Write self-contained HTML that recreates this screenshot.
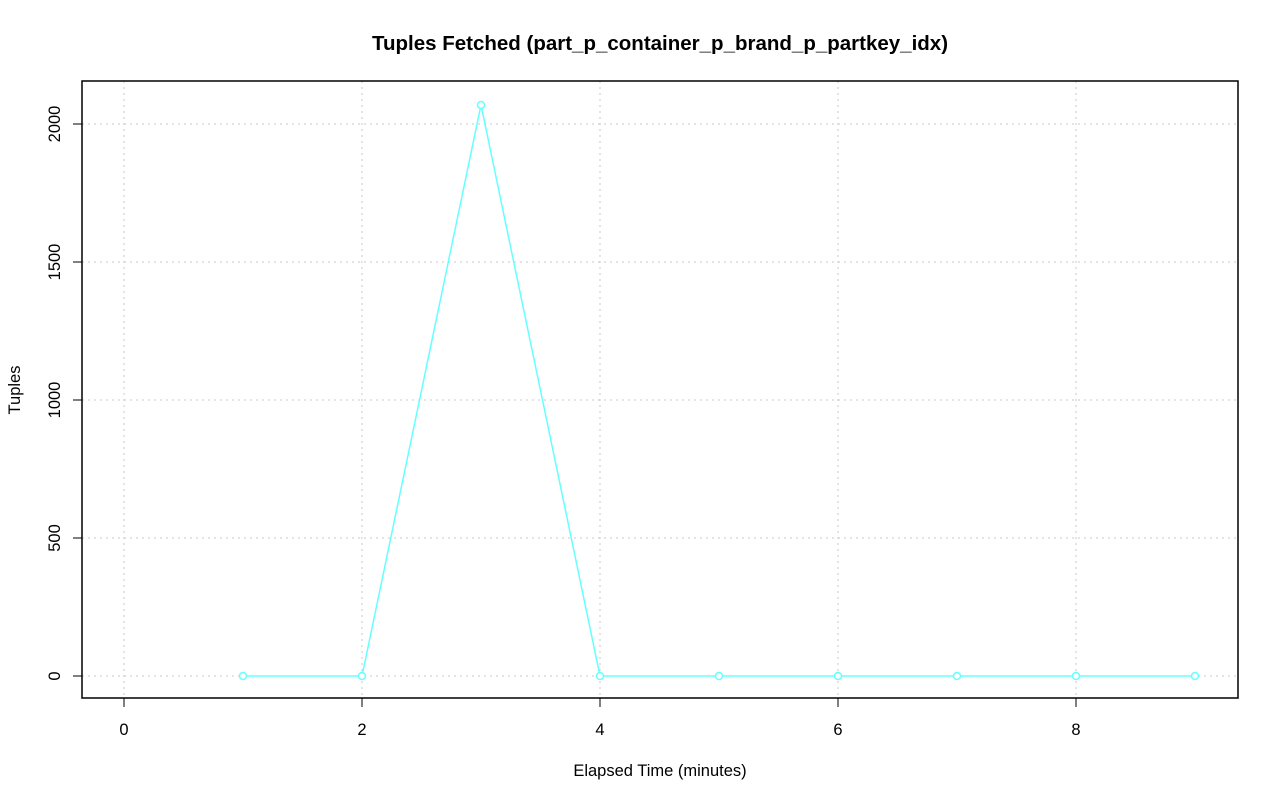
<!DOCTYPE html>
<html><head><meta charset="utf-8"><style>
body{margin:0;background:#fff;}
svg text{font-family:"Liberation Sans",Arial,sans-serif;}
</style></head><body>
<svg id="chart" width="1280" height="801" viewBox="0 0 1280 801">
<text x="660" y="50" text-anchor="middle" font-size="20.5" font-weight="bold">Tuples Fetched (part_p_container_p_brand_p_partkey_idx)</text>
<text x="660" y="776" text-anchor="middle" font-size="16.5">Elapsed Time (minutes)</text>
<text transform="translate(20,390) rotate(-90)" text-anchor="middle" font-size="16.5">Tuples</text>
<g id="grid"></g><g id="axes"></g><g id="series"></g>
<rect x="82" y="81" width="1156" height="617" fill="none" stroke="#000" stroke-width="1.5"/>
</svg>
<script>
const xValues=[1,2,3,4,5,6,7,8,9];
const yValues=[0,0,2069,0,0,0,0,0,0];
const xTicks=[0,2,4,6,8];
const yTicks=[0,500,1000,1500,2000];
const NS="http://www.w3.org/2000/svg";
function xs(v){return 124+v*119;}
function ys(v){return 676-v*0.276;}
function mk(p,t,a){const e=document.createElementNS(NS,t);for(const k in a)e.setAttribute(k,a[k]);document.getElementById(p).appendChild(e);return e;}
xTicks.forEach(t=>{
 let g=mk('grid','line',{x1:xs(t),x2:xs(t),y1:81,y2:698,stroke:'#c8c8c8','stroke-dasharray':'2,4'});
 
 
 let k=mk('axes','line',{x1:xs(t),x2:xs(t),y1:698,y2:707,stroke:'#000'});
 
 
 let l=mk('axes','text',{x:xs(t),y:735,'text-anchor':'middle','font-size':'16.5'});l.textContent=t;
 
 
});
yTicks.forEach(t=>{
 let g=mk('grid','line',{x1:82,x2:1238,y1:ys(t),y2:ys(t),stroke:'#c8c8c8','stroke-dasharray':'2,4'});
 
 
 let k=mk('axes','line',{x1:73,x2:82,y1:ys(t),y2:ys(t),stroke:'#000'});
 
 
 let l=mk('axes','text',{transform:`translate(60,${ys(t)}) rotate(-90)`,'text-anchor':'middle','font-size':'16.5'});l.textContent=t;
 
 
});
let pts=xValues.map((x,i)=>xs(x)+','+ys(yValues[i])).join(' ');
let pl=mk('series','polyline',{points:pts,fill:'none',stroke:'#66ffff','stroke-width':'1.5'});


xValues.forEach((x,i)=>{
 let c=mk('series','circle',{cx:xs(x),cy:ys(yValues[i]),r:3.5,fill:'#fff',stroke:'#66ffff','stroke-width':'1.5'});
 
 
});
</script>
</body></html>
